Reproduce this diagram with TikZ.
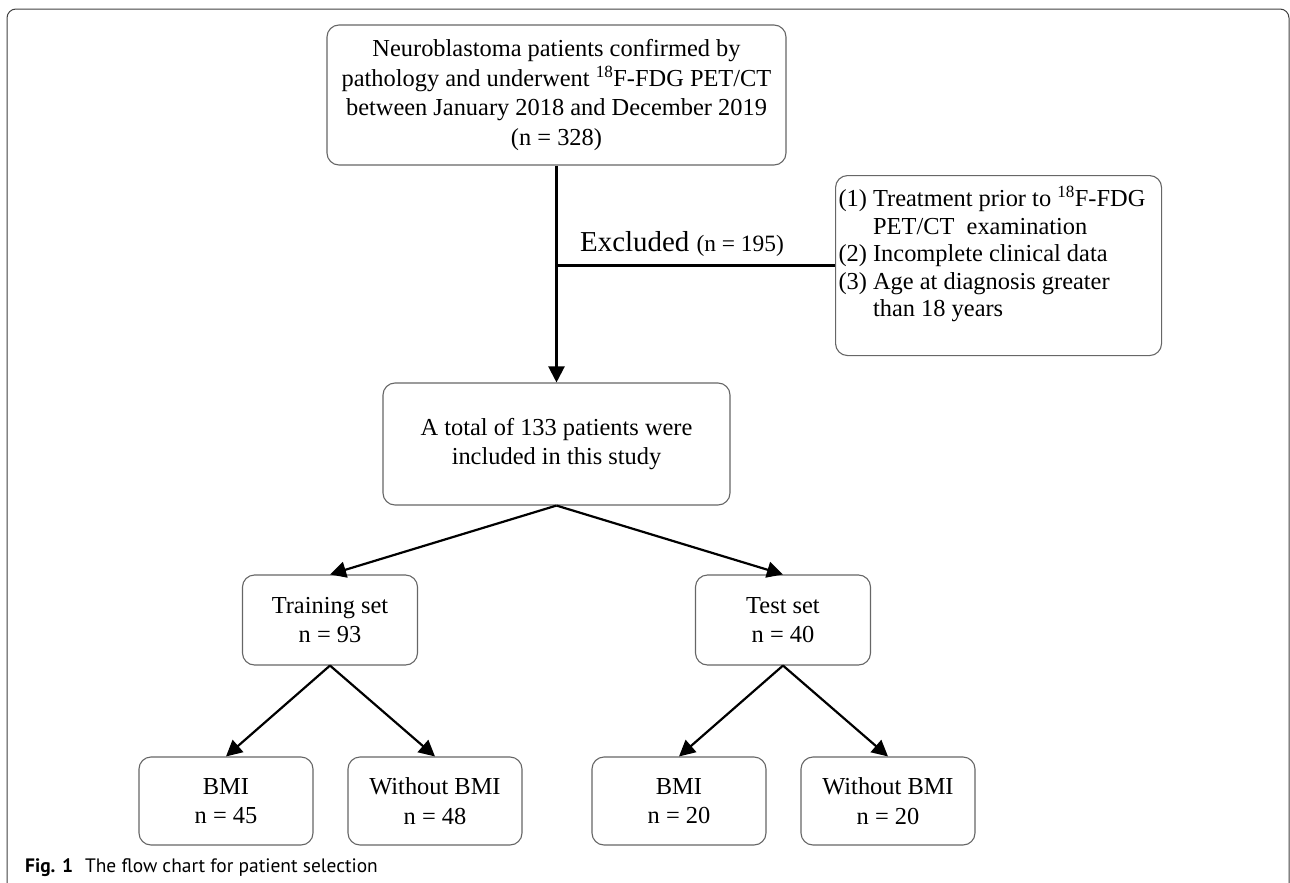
\documentclass[tikz,border=0pt]{standalone}
\usepackage{xcolor}
\usepackage{fontspec}
\setmainfont{Liberation Serif}
\newfontfamily\capfont{PT Sans}
\usetikzlibrary{shapes,arrows.meta,positioning}

\begin{document}
\begin{tikzpicture}[x=1bp, y=-1bp,
  box/.style={draw=black!60, line width=1.1bp, rounded corners=12bp, align=center, inner sep=0pt,
    font=\fontsize{24.5}{29.5}\selectfont},
  arr/.style={-{Triangle[length=16bp,width=16bp]}, line width=2.2bp},
  link/.style={line width=2.2bp}]
\useasboundingbox (0,0) rectangle (1290,883);
\draw[black!75, line width=1bp, rounded corners=9bp] (7,883) -- (7,9) -- (1289,9) -- (1289,883);

\node (source) [box, minimum width=459bp, minimum height=140bp] at (556.5,95)
  {Neuroblastoma patients confirmed by\\ pathology and underwent \textsuperscript{18}F-FDG PET/CT\\
   between January 2018 and December 2019\\ (n = 328)};
\node (excl) [box, anchor=north west, minimum width=326bp, minimum height=180bp] at (835,175)
  {\parbox[c][172bp][t]{320bp}{\vspace*{7bp}\fontsize{24.5}{27.5}\selectfont
   \begin{tabular}{@{}l@{ }l@{}}
   (1) & Treatment prior to \textsuperscript{18}F-FDG\\
       & PET/CT\ \ examination\\
   (2) & Incomplete clinical data\\
   (3) & Age at diagnosis greater\\
       & than 18 years
   \end{tabular}}};
\node (total) [box, minimum width=347bp, minimum height=122bp] at (556.5,444)
  {A total of 133 patients were\\ included in this study};
\node (train) [box, minimum width=175bp, minimum height=90bp] at (330,620) {Training set\\ n = 93};
\node (test) [box, minimum width=175bp, minimum height=90bp] at (783,620) {Test set\\ n = 40};
\node (bmiA) [box, minimum width=174bp, minimum height=88bp] at (226,801) {BMI\\ n = 45};
\node (nobmiA) [box, minimum width=174bp, minimum height=88bp] at (435,801) {Without BMI\\ n = 48};
\node (bmiB) [box, minimum width=174bp, minimum height=88bp] at (679,801) {BMI\\ n = 20};
\node (nobmiB) [box, minimum width=174bp, minimum height=88bp] at (888,801) {Without BMI\\ n = 20};

\node (exlabel) [anchor=base west, inner sep=0pt] at (580,251)
  {\fontsize{29}{32}\selectfont Excluded {\fontsize{23.5}{26}\selectfont(n = 195)}};

\draw[arr] (source) -- (total);
\coordinate (split) at (source.south |- excl.west);
\draw[link] (split) -- (excl.west);
\draw[arr] (total.south) -- (train.north);
\draw[arr] (total.south) -- (test.north);
\draw[arr] (train.south) -- (bmiA.north);
\draw[arr] (train.south) -- (nobmiA.north);
\draw[arr] (test.south) -- (bmiB.north);
\draw[arr] (test.south) -- (nobmiB.north);

\node (caption) [anchor=base west, inner sep=0pt, font=\capfont\fontsize{19.5}{23}\selectfont] at (25,872)
  {\textbf{Fig. 1}\hspace{12bp}The flow chart for patient selection};
\end{tikzpicture}
\end{document}
